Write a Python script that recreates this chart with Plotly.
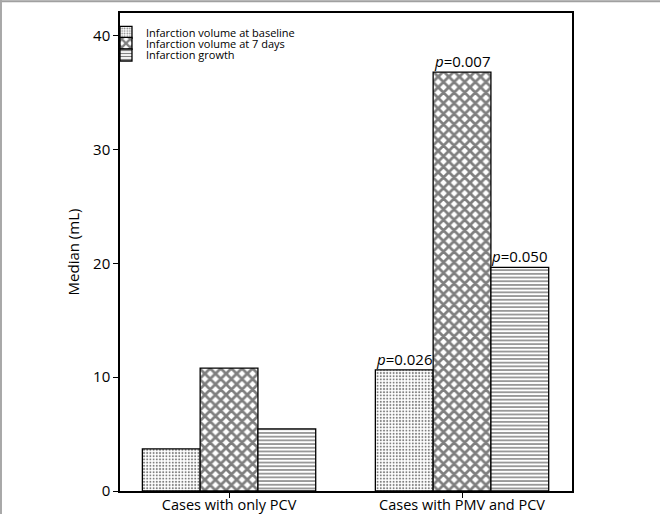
import plotly.graph_objects as go

groups = ["Cases with only PCV", "Cases with PMV and PCV"]
series_names = ["Infarction volume at baseline", "Infarction volume at 7 days", "Infarction growth"]
baseline = [3.7, 10.65]
day7 = [10.8, 36.8]
growth = [5.45, 19.65]
p_values = [[None, "0.026"], [None, "0.007"], [None, "0.050"]]
y_ticks = [0, 10, 20, 30, 40]

patterns = [dict(shape=".", size=3.2, solidity=0.3),
            dict(shape="x", size=7.5, solidity=0.6),
            dict(shape="-", size=3.7, solidity=0.4)]
legend_ids = ["legend", "legend2", "legend3"]
legend_y = [0.9596, 0.9366, 0.9121]

x_pos = [0, 1]
fig = go.Figure()
for name, vals, pat, lg in zip(series_names, [baseline, day7, growth], patterns, legend_ids):
    fig.add_trace(go.Bar(
        x=x_pos, y=vals, name=name, legend=lg,
        marker=dict(color="white", line=dict(color="black", width=1.3),
                    pattern=dict(fgcolor="black", bgcolor="white", fillmode="overlay", **pat)),
    ))

bar_w = 0.248
offsets = [-bar_w, 0, bar_w]
vals_all = [baseline, day7, growth]
for s in range(3):
    for g in range(2):
        lab = p_values[s][g]
        if lab:
            fig.add_annotation(x=x_pos[g] + offsets[s], y=vals_all[s][g], text="<i>p</i>=" + lab,
                               showarrow=False, yanchor="bottom", yshift=-1,
                               font=dict(size=15, color="black"))

leg_common = dict(x=-0.031, xanchor="left", yanchor="middle", bgcolor="rgba(0,0,0,0)",
                  font=dict(size=11, color="black"), borderwidth=0)
layout_legends = {lg: dict(y=ly, **leg_common) for lg, ly in zip(legend_ids, legend_y)}

# gray frame lines at top and left edges of the image
fig.add_shape(type="line", xref="paper", yref="paper", x0=-0.3, x1=1.3, y0=1.0245, y1=1.0245,
              line=dict(color="#a0a0a0", width=2))
fig.add_shape(type="line", xref="paper", yref="paper", x0=-0.2633, x1=-0.2633, y0=-0.1, y1=1.1,
              line=dict(color="#a8a8a8", width=2))

fig.update_layout(
    width=660, height=514,
    margin=dict(l=120, r=88, t=13, b=23, autoexpand=False),
    paper_bgcolor="white", plot_bgcolor="white",
    font=dict(family="Open Sans, sans-serif", color="black"),
    barmode="group", bargap=0.256, bargroupgap=0,
    showlegend=True,
    xaxis=dict(range=[-0.468, 1.472], tickvals=x_pos, ticktext=groups, showline=True,
               linecolor="black", linewidth=1.5, mirror=True, ticks="outside", ticklen=5,
               tickcolor="black", tickfont=dict(size=14.5), showgrid=False, zeroline=False,
               automargin=False, ticklabelstandoff=-5),
    yaxis=dict(range=[0, 42.0], tickvals=y_ticks, showline=True, linecolor="black",
               linewidth=1.5, mirror=True, ticks="outside", ticklen=5, tickcolor="black",
               tickfont=dict(size=15), showgrid=False, zeroline=False, automargin=False,
               title=dict(text="Median (mL)", font=dict(size=15), standoff=10)),
    **layout_legends,
)
fig.write_html("out.html", config={"displayModeBar": False},
               post_script="document.body.style.margin='0';document.body.style.overflow='hidden';")
